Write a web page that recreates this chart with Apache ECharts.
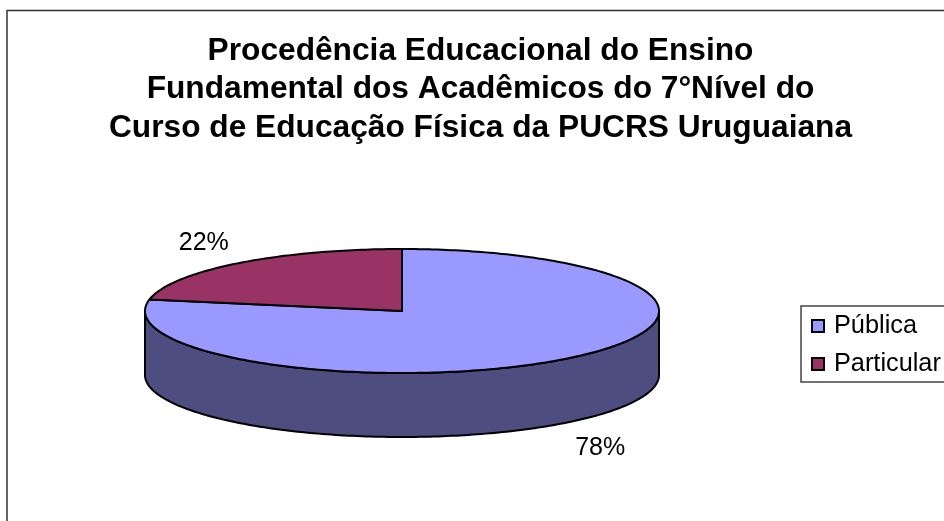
<!DOCTYPE html>
<html>
<head>
<meta charset="utf-8">
<title>Procedência Educacional</title>
<style>
html, body { margin: 0; padding: 0; background: #fff; }
#chart { width: 944px; height: 521px; }
</style>
<script src="https://cdn.jsdelivr.net/npm/echarts@6/dist/echarts.min.js"></script>
</head>
<body>
<div id="chart"></div>
<script>
// dados
var categories = ['Pública', 'Particular'];
var values = [78, 22];
var colors = ['#9999FF', '#993366'];
var sideColor = '#4D4D80';
var titleLines = [
    'Procedência Educacional do Ensino',
    'Fundamental dos Acadêmicos do 7°Nível do',
    'Curso de Educação Física da PUCRS Uruguaiana'
];

// elipse da pizza "3D"
var cx = 402, cy = 311, rx = 257, ry = 62, depth = 64;
var total = values[0] + values[1];

function ellipsePoint(deg, dy) {
    var t = deg / 180 * Math.PI;
    return [cx + rx * Math.sin(t), cy - ry * Math.cos(t) + (dy || 0)];
}

// graus a partir do topo, sentido horario
function startAngle(idx) {
    var s = 0;
    for (var i = 0; i < idx; i++) {
        s += values[i] / total * 360;
    }
    return s;
}

function slicePoints(from, to) {
    var pts = [[cx, cy]];
    for (var a = from; a < to; a += 1) {
        pts.push(ellipsePoint(a));
    }
    pts.push(ellipsePoint(to));
    return pts;
}

// parede lateral: so a metade da frente aparece
function sidePoints() {
    var pts = [];
    for (var a = 90; a <= 270; a += 1) {
        pts.push(ellipsePoint(a));
    }
    for (var b = 270; b >= 90; b -= 1) {
        pts.push(ellipsePoint(b, depth));
    }
    return pts;
}

function renderSlice(params, api) {
    var idx = params.seriesIndex;
    var from = startAngle(idx);
    var to = from + api.value(0) / total * 360;
    var mid = (from + to) / 2;
    var front = Math.cos(mid / 180 * Math.PI) < 0;
    var children = [];
    if (idx === 0) {
        children.push({
            type: 'polygon',
            shape: { points: sidePoints() },
            style: { fill: sideColor, stroke: '#000', lineWidth: 2, lineJoin: 'round' }
        });
    }
    children.push({
        type: 'polygon',
        shape: { points: slicePoints(from, to) },
        style: { fill: colors[idx], stroke: '#000', lineWidth: 2, lineJoin: 'round' }
    });
    var t = mid / 180 * Math.PI;
    children.push({
        type: 'text',
        style: {
            text: api.value(0) + '%',
            x: cx + rx * 1.21 * Math.sin(t),
            y: cy - ry * Math.cos(t) + (front ? depth + 25 : -20),
            fill: '#000',
            font: '25px "Liberation Sans", Arial, sans-serif',
            align: 'center',
            verticalAlign: 'middle'
        }
    });
    return { type: 'group', children: children };
}

var chart = echarts.init(document.getElementById('chart'));
var series = [];
for (var i = 0; i < categories.length; i++) {
    series.push({
        name: categories[i],
        type: 'custom',
        coordinateSystem: 'none',
        renderItem: renderSlice,
        itemStyle: { color: colors[i] },
        silent: true,
        animation: false,
        data: [[values[i]]]
    });
}

chart.setOption({
    animation: false,
    backgroundColor: '#fff',
    title: {
        text: titleLines.join('\n'),
        left: 475.5,
        top: 27,
        textAlign: 'center',
        textStyle: {
            fontFamily: '"Liberation Sans", Arial, sans-serif',
            fontWeight: 'bold',
            fontSize: 31.7,
            lineHeight: 38.5,
            color: '#000'
        }
    },
    legend: {
        data: categories,
        orient: 'vertical',
        left: 801,
        top: 306,
        padding: [7, 10, 5, 10],
        itemGap: 12,
        itemWidth: 12,
        itemHeight: 12,
        icon: 'rect',
        itemStyle: { borderColor: '#000', borderWidth: 2 },
        borderColor: '#444',
        borderWidth: 1.5,
        selectedMode: false,
        textStyle: {
            fontFamily: '"Liberation Sans", Arial, sans-serif',
            fontSize: 25.3,
            lineHeight: 26,
            color: '#000',
            padding: [0, 0, 0, 5]
        }
    },
    graphic: [{
        type: 'polyline',
        shape: { points: [[7, 521], [7, 10.5], [944, 10.5]] },
        style: { stroke: '#333', lineWidth: 1.5, fill: null },
        silent: true
    }],
    series: series
});
</script>
</body>
</html>
